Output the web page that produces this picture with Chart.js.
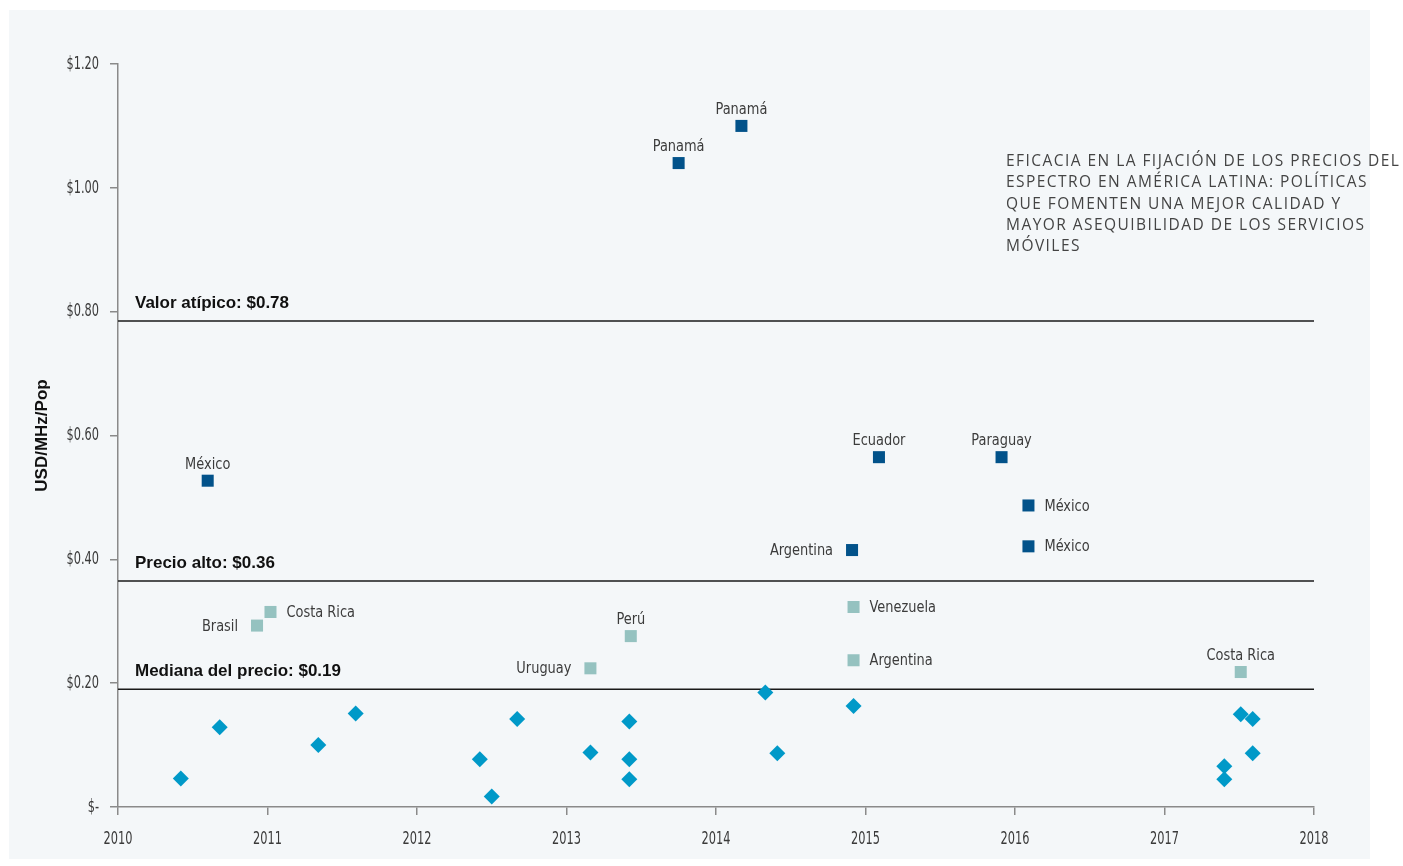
<!DOCTYPE html>
<html>
<head>
<meta charset="utf-8">
<script src="https://cdn.jsdelivr.net/npm/chart.js@4.4.1/dist/chart.umd.min.js"></script>
<style>
  html, body { margin: 0; padding: 0; background: #ffffff; }
  body { width: 1403px; height: 866px; position: relative; overflow: hidden; }
  #panel { position: absolute; left: 9px; top: 10px; width: 1361px; height: 849px; background: #f4f7f9; }
  #chart { position: absolute; left: 0; top: 0; }
  #heading {
    position: absolute; left: 1006px; top: 150px;
    font-family: "Open Sans", sans-serif; font-size: 15.5px; line-height: 21.3px;
    letter-spacing: 1.45px; color: #444444; white-space: nowrap;
  }
</style>
</head>
<body>
<div id="panel"></div>
<canvas id="chart" width="1403" height="866"></canvas>
<div id="heading">EFICACIA EN LA FIJACIÓN DE LOS PRECIOS DEL<br>ESPECTRO EN AMÉRICA LATINA: POLÍTICAS<br>QUE FOMENTEN UNA MEJOR CALIDAD Y<br>MAYOR ASEQUIBILIDAD DE LOS SERVICIOS<br>MÓVILES</div>
<script>
// Assignments above the "precio alto" line (dark blue squares)
const highYears  = [2014.17, 2013.75, 2010.60, 2015.09, 2015.91, 2016.09, 2016.09, 2014.91];
const highPrices = [1.10, 1.04, 0.527, 0.565, 0.565, 0.487, 0.421, 0.415];
const highNames  = ['Panamá', 'Panamá', 'México', 'Ecuador', 'Paraguay', 'México', 'México', 'Argentina'];
const highSide   = ['top', 'top', 'top', 'top', 'top', 'right', 'right', 'left'];

// Assignments between the median and the high price (light teal squares)
const midYears  = [2010.93, 2011.02, 2013.43, 2013.16, 2014.92, 2014.92, 2017.51];
const midPrices = [0.293, 0.315, 0.276, 0.224, 0.323, 0.237, 0.218];
const midNames  = ['Brasil', 'Costa Rica', 'Perú', 'Uruguay', 'Venezuela', 'Argentina', 'Costa Rica'];
const midSide   = ['left', 'right', 'top', 'left', 'right', 'right', 'top'];

// Assignments below the median (diamonds, no names)
const lowYears  = [2010.42, 2010.68, 2011.34, 2011.59, 2012.42, 2012.50, 2012.67, 2013.16, 2013.42, 2013.42,
                   2013.42, 2014.33, 2014.41, 2014.92, 2017.51, 2017.59, 2017.59, 2017.40, 2017.40];
const lowPrices = [0.046, 0.129, 0.100, 0.151, 0.077, 0.017, 0.142, 0.088, 0.138, 0.077,
                   0.045, 0.185, 0.087, 0.163, 0.150, 0.142, 0.087, 0.066, 0.045];

// Reference lines
const refValues = [0.785, 0.365, 0.19];
const refLabels = ['Valor atípico: $0.78', 'Precio alto: $0.36', 'Mediana del precio: $0.19'];

const xTicks = [2010, 2011, 2012, 2013, 2014, 2015, 2016, 2017, 2018];
const xTickLabels = ['2010', '2011', '2012', '2013', '2014', '2015', '2016', '2017', '2018'];
const yTicks = [0, 0.2, 0.4, 0.6, 0.8, 1.0, 1.2];
const yTickLabels = ['$-', '$0.20', '$0.40', '$0.60', '$0.80', '$1.00', '$1.20'];

const points = (xs, ys) => xs.map((x, i) => ({ x: x, y: ys[i] }));

const refSets = refValues.map((v, i) => ({
  label: refLabels[i],
  data: [{ x: xTicks[0], y: v }, { x: xTicks[xTicks.length - 1], y: v }],
  showLine: true,
  borderColor: '#1a1a1a',
  borderWidth: 1.5,
  pointRadius: 0,
  order: 10,
  refLine: true
}));

const condFont = '"DejaVu Sans Condensed", "DejaVu Sans", sans-serif';

// text squeezed sideways to get close to the narrow font of the original
function narrowText(ctx, text, x, y, align, squeeze) {
  ctx.save();
  ctx.translate(x, y);
  ctx.scale(squeeze, 1);
  ctx.textAlign = align;
  ctx.fillText(text, 0, 0);
  ctx.restore();
}

// draws the country names, the reference line captions and the tick labels
const labelPlugin = {
  id: 'pointLabels',
  afterDatasetsDraw(chart) {
    const ctx = chart.ctx;
    ctx.save();
    chart.data.datasets.forEach((ds, di) => {
      const meta = chart.getDatasetMeta(di);
      if (ds.names) {
        ctx.font = '16px ' + condFont;
        ctx.fillStyle = '#3c3c3c';
        meta.data.forEach((pt, i) => {
          const side = ds.sides[i];
          if (side === 'top') {
            ctx.textBaseline = 'alphabetic';
            narrowText(ctx, ds.names[i], pt.x, pt.y - 12, 'center', 0.9);
          } else if (side === 'right') {
            ctx.textBaseline = 'middle';
            narrowText(ctx, ds.names[i], pt.x + 16, pt.y + 1, 'left', 0.9);
          } else {
            ctx.textBaseline = 'middle';
            narrowText(ctx, ds.names[i], pt.x - 19, pt.y + 1, 'right', 0.9);
          }
        });
      }
      if (ds.refLine) {
        ctx.font = 'bold 17px "Liberation Sans", Arial, sans-serif';
        ctx.fillStyle = '#111111';
        ctx.textAlign = 'left';
        ctx.textBaseline = 'alphabetic';
        ctx.fillText(ds.label, chart.chartArea.left + 17, meta.data[0].y - 13);
      }
    });

    // tick labels
    const xs = chart.scales.x, ys = chart.scales.y;
    ctx.font = '18px ' + condFont;
    ctx.fillStyle = '#3a3a3a';
    ctx.textBaseline = 'middle';
    xTicks.forEach((v, i) => {
      narrowText(ctx, xTickLabels[i], xs.getPixelForValue(v), xs.top + 32, 'center', 0.7);
    });
    yTicks.forEach((v, i) => {
      narrowText(ctx, yTickLabels[i], ys.right - 19, ys.getPixelForValue(v), 'right', 0.7);
    });
    ctx.restore();
  }
};

new Chart(document.getElementById('chart'), {
  type: 'scatter',
  data: {
    datasets: [
      {
        label: 'high',
        data: points(highYears, highPrices),
        names: highNames, sides: highSide,
        pointStyle: 'rect', pointRadius: 8.5, pointHoverRadius: 8.5,
        backgroundColor: '#02528a', borderWidth: 0, order: 1
      },
      {
        label: 'mid',
        data: points(midYears, midPrices),
        names: midNames, sides: midSide,
        pointStyle: 'rect', pointRadius: 8.5, pointHoverRadius: 8.5,
        backgroundColor: '#95c2c0', borderWidth: 0, order: 2
      },
      {
        label: 'low',
        data: points(lowYears, lowPrices),
        pointStyle: 'rectRot', pointRadius: 8, pointHoverRadius: 8,
        backgroundColor: '#0099c8', borderWidth: 0, order: 3
      },
      ...refSets
    ]
  },
  options: {
    responsive: false,
    animation: false,
    layout: { padding: { left: 0, top: 64, right: 89, bottom: 0 } },
    plugins: { legend: { display: false }, tooltip: { enabled: false } },
    scales: {
      x: {
        type: 'linear',
        min: xTicks[0], max: xTicks[xTicks.length - 1],
        afterBuildTicks: (scale) => { scale.ticks = xTicks.map(v => ({ value: v })); },
        afterFit: (scale) => { scale.height = 59; },
        border: { color: '#8a8a8a', width: 1.5 },
        grid: { drawOnChartArea: false, drawTicks: true, tickLength: 8, color: '#8a8a8a', lineWidth: 1.5 },
        ticks: { display: false }
      },
      y: {
        min: yTicks[0], max: yTicks[yTicks.length - 1],
        afterBuildTicks: (scale) => { scale.ticks = yTicks.map(v => ({ value: v })); },
        afterFit: (scale) => { scale.width = 118; },
        border: { color: '#8a8a8a', width: 1.5 },
        grid: { drawOnChartArea: false, drawTicks: true, tickLength: 8, color: '#8a8a8a', lineWidth: 1.5 },
        title: {
          display: true,
          text: 'USD/MHz/Pop',
          color: '#111111',
          font: { family: '"Liberation Sans", Arial, sans-serif', size: 17, weight: 'bold' },
          padding: { top: 32, bottom: 0 }
        },
        ticks: { display: false }
      }
    }
  },
  plugins: [labelPlugin]
});
</script>
</body>
</html>
